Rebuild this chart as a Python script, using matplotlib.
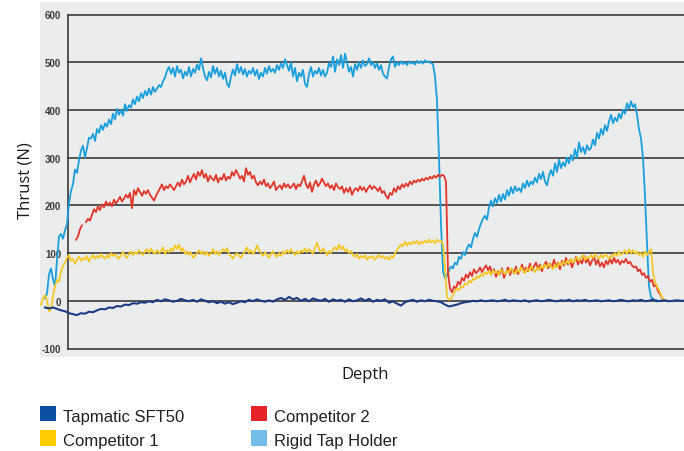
import numpy as np
import matplotlib
matplotlib.use("Agg")
import matplotlib.pyplot as plt
from matplotlib.patches import Rectangle

nan = np.nan

# ---------------- data ----------------
series_names = ["Tapmatic SFT50", "Competitor 1", "Competitor 2", "Rigid Tap Holder"]
legend_colors = ["#0b4ea2", "#ffcc00", "#e8232a", "#74bde9"]
line_colors = ["#1d3b85", "#f4c92a", "#e2362b", "#1a9fdc"]

yticks = [-100, 0, 100, 200, 300, 400, 500, 600]

# Rigid Tap Holder: sampled every 2 depth units from depth 45
rigid_start, rigid_step = 45, 2
rigid_thrust = [5, 15, 55, 68, 45, 30, 85, 135, 140, 130, 148, 160,
    205, 230, 245, 275, 268, 295, 315, 325, 300, 320,
    342, 340, 350, 335, 360, 352, 368, 358, 372, 365,
    380, 370, 392, 380, 402, 390, 400, 388, 412, 398,
    410, 405, 422, 412, 428, 418, 435, 425, 440, 430,
    445, 432, 448, 438, 445, 452, 448, 460, 468, 482,
    490, 476, 488, 470, 492, 478, 484, 466, 480, 472,
    490, 470, 486, 478, 495, 484, 508, 488, 470, 462,
    480, 468, 492, 476, 488, 470, 482, 465, 478, 455,
    448, 470, 485, 472, 496, 478, 490, 474, 486, 470,
    482, 476, 488, 472, 484, 465, 478, 470, 488, 476,
    492, 480, 486, 478, 494, 484, 498, 488, 506, 494,
    482, 500, 470, 488, 460, 478, 470, 484, 455, 448,
    475, 490, 470, 482, 476, 488, 472, 484, 470, 478,
    498, 490, 512, 480, 506, 494, 515, 488, 518, 500,
    480, 490, 470, 496, 484, 500, 488, 504, 492, 496,
    508, 494, 500, 488, 498, 484, 494, 476, 470, 466,
    490, 506, 512, 490, 500, 494, 502, 496, 500, 494,
    502, 497, 500, 495, 503, 498, 502, 497, 504, 500,
    502, 498, 496, 470, 420,
    300, 160, 62, 48, 52, 64, 72, 68, 80, 76,
    92, 88, 102, 96, 110, 118, 112, 130, 142, 134,
    150, 162, 172, 178, 170, 196, 210, 198, 215, 205,
    222, 208, 224, 212, 232, 220, 238, 225, 240, 230,
    236, 228, 246, 236, 252, 240, 250, 244, 258, 248,
    266, 255, 270, 250, 242, 262, 274, 262, 288, 270,
    296, 278, 290, 282, 300, 288, 306, 294, 318, 300,
    332, 312, 322, 308, 326, 316, 320, 338, 326, 352,
    340, 360, 348, 368, 356, 376, 390, 372, 384, 376,
    392, 382, 400, 392, 414, 402, 418, 406, 412, 390,
    360, 340, 300, 220, 120, 30, 8, 3,
    0, 1]

# Competitor 2: sampled every 2 depth units from depth 76
comp2_start, comp2_step = 76, 2
comp2_thrust = [128, 135, 150, 158, nan,
    165, 172, 168, 180, 192, 186, 198, 190, 202, 196,
    208, 200, 206, 198, 212, 204, 210, 218, 208, 214,
    222, 216, 226, 194, 232, 222, 236, 228, 220, 230,
    224, 232, 222, 216, 210, 220, 228, 236, 244, 232,
    240, 236, 244, 238, 232, 240, 248, 240, 254, 244,
    250, 262, 248, 258, 266, 254, 270, 262, 274, 258,
    266, 250, 262, 256, 252, 264, 248, 258, 254, 266,
    252, 260, 256, 270, 262, 274, 266, 256, 262, 250,
    278, 264, 270, 256, 262, 248, 242, 250, 244, 254,
    240, 246, 236, 242, 250, 232, 238, 242, 234, 246,
    238, 244, 236, 240, 246, 234, 244, 240, 250, 262,
    244, 236, 248, 228, 244, 252, 240, 246, 256, 248,
    240, 246, 236, 242, 232, 246, 238, 234, 240, 226,
    236, 228, 238, 222, 232, 236, 230, 240, 232, 238,
    228, 236, 242, 234, 240, 236, 230, 238, 226, 230,
    220, 214, 226, 222, 236, 228, 240, 234, 244, 238,
    246, 240, 250, 244, 252, 248, 254, 250, 256, 252,
    258, 254, 260, 256, 262, 258, 264, 260, 264, 262,
    250, 60, 25,
    18, 30, 26, 40, 34, 48, 42, 55, 48, 60,
    52, 66, 58, 62, 70, 60, 68, 74, 64, 72,
    58, 66, 50, 62, 56, 68, 48, 60, 70, 54,
    66, 58, 72, 56, 64, 76, 60, 70, 62, 78,
    64, 72, 80, 66, 76, 62, 74, 82, 68, 78,
    70, 86, 72, 80, 66, 84, 74, 90, 76, 86,
    70, 82, 92, 76, 86, 78, 94, 80, 88, 74,
    84, 92, 76, 86, 72, 80, 70, 84, 76, 88,
    78, 90, 80, 86, 76, 84, 80, 88, 78, 82,
    74, 70, 72, 62, 66, 54, 58, 48, 52, 40,
    44, 30, 34, 20, 14, 6, 2]

# Competitor 1: sampled every 2 depth units from depth 41
comp1_start, comp1_step = 41, 2
comp1_thrust = [-8, 5, 12, 0, -22, -18, 10, 30, 44, 40,
    62, 72, 80, 90, 96, 84, 88, 78, 86, 92,
    84, 90, 86, 94, 82, 90, 96, 88, 94, 90,
    98, 92, 88, 96, 90, 100, 94, 98, 92, 88,
    96, 102, 94, 90, 98, 104, 96, 102, 98, 106,
    100, 96, 104, 108, 100, 110, 102, 98, 106, 100,
    104, 112, 98, 106, 102, 110, 104, 116, 108, 118,
    104, 110, 98, 104, 96, 102, 90, 94, 100, 106,
    98, 104, 96, 102, 94, 100, 108, 98, 104, 96,
    102, 108, 104, 110, 98, 94, 88, 96, 100, 94,
    90, 98, 104, 112, 100, 106, 98, 104, 116, 108,
    100, 94, 102, 96, 90, 98, 104, 96, 92, 100,
    94, 104, 98, 106, 100, 108, 100, 96, 104, 98,
    106, 102, 110, 102, 108, 104, 98, 112, 122, 108,
    102, 110, 104, 96, 104, 100, 108, 112, 106, 118,
    108, 114, 104, 108, 100, 104, 96, 92, 98, 88,
    94, 90, 96, 86, 92, 90, 94, 86, 92, 96,
    90, 94, 88, 92, 86, 94, 90, 100, 106, 112,
    118, 114, 124, 116, 122, 118, 124, 120, 126, 118,
    124, 120, 126, 122, 128, 122, 126, 120, 128, 124,
    126, 118, 70, 8, 2, 4, 12, 20, 26, 22,
    30, 28, 36, 34, 42, 38, 46, 44, 52, 48,
    56, 52, 60, 56, 62, 54, 64, 58, 62, 54,
    66, 60, 56, 64, 58, 68, 62, 56, 66, 60,
    70, 64, 58, 68, 62, 72, 66, 60, 70, 64,
    74, 68, 76, 70, 78, 72, 66, 76, 70, 80,
    74, 82, 76, 84, 78, 88, 80, 86, 92, 84,
    90, 96, 86, 92, 88, 96, 90, 98, 92, 88,
    96, 90, 98, 94, 88, 96, 92, 100, 94, 104,
    96, 100, 106, 98, 108, 100, 106, 98, 104, 96,
    100, 92, 104, 96, 102, 108, 60, 40, 30, 22,
    12, 4, 1]

# Tapmatic SFT50: sampled every 4 depth units from depth 45
tap_start, tap_step = 45, 4
tap_thrust = [-14, -16, -14, -17, -20, -22, -26, -28, -30, -26,
    -27, -23, -24, -20, -17, -18, -14, -15, -11, -12,
    -8, -9, -5, -6, -3, -4, -1, -3, 2, -1,
    3, 1, -2, 0, 4, 1, -1, 2, -2, 3,
    0, -3, -1, -5, -2, -6, -3, -7, -4, -1,
    -3, 2, -1, 3, 0, -2, 1, -2, 3, 6,
    2, 8, 3, 6, 0, 4, -1, 5, 2, 0,
    4, -2, 3, 0, 2, -2, 3, -1, 1, 5,
    0, 4, -2, 2, 0, 3, -4, -1, -6, -10,
    -3, 0, 2, -2, 1, -1, 2, 0, -1, -3,
    -8, -12, -10, -8, -5, -3, -2, 0, -1, 1,
    -1, 0, 1, -1, 0, 2, -1, 1, 0, -1,
    1, -2, 0, 1, -1, 0, 2, 0, -1, 1,
    0, 2, -1, 1, 0, 2, -1, 0, 1, -1,
    0, 1, -1, 0, 2, 0, -1, 1, 0, 2,
    -1, 0, 3, -1, 0, 1, -1, 0, 1, 0,
    0]

depth_min, depth_max = 68, 684

# ---------------- figure ----------------
W, H = 684, 452
fig = plt.figure(figsize=(W / 100, H / 100), dpi=100)
fig.patch.set_facecolor("white")

panel_color = "#ebecec"
grid_color = "#3a3a3a"

# grey panel behind the chart
fig.patches.append(Rectangle((40 / W, 1 - 358 / H), (W - 40) / W, 355 / H,
                             transform=fig.transFigure, facecolor=panel_color,
                             edgecolor="none", zorder=-5))

ax = fig.add_axes([68 / W, 1 - 349.5 / H, (W - 68) / W, 334 / H])
ax.set_zorder(2)
ax.set_facecolor(panel_color)
ax.set_xlim(depth_min, depth_max)
ax.set_ylim(yticks[0], yticks[-1])

for s in ["top", "right", "bottom"]:
    ax.spines[s].set_visible(False)
ax.spines["left"].set_color(grid_color)
ax.spines["left"].set_linewidth(1.2)

ax.set_xticks([])
ax.set_yticks(yticks)
ax.set_yticklabels([str(t) for t in yticks], fontsize=7, fontweight="bold",
                   color="#3a3a3a", family=["Liberation Sans", "DejaVu Sans"])
ax.tick_params(axis="y", length=0, pad=5)
for t in yticks:
    ax.axhline(t, color=grid_color, lw=1.2, zorder=1, clip_on=False)


def depth_axis(start, step, values):
    return start + step * np.arange(len(values))


series = [
    (rigid_start, rigid_step, rigid_thrust, 3),
    (comp2_start, comp2_step, comp2_thrust, 2),
    (comp1_start, comp1_step, comp1_thrust, 1),
    (tap_start, tap_step, tap_thrust, 0),
]
zord = {3: 3, 2: 4, 1: 5, 0: 6}
widths = {3: 1.3, 2: 1.3, 1: 1.3, 0: 1.5}
for start, step, vals, idx in series:
    d = depth_axis(start, step, vals)
    ax.plot(d, vals, color=line_colors[idx], lw=widths[idx], zorder=zord[idx],
            clip_on=False, solid_joinstyle="round")

# axis titles
fig.text(25 / W, 1 - 181 / H, "Thrust (N)", rotation=90, ha="center",
         va="center", fontsize=12, family=["Open Sans", "DejaVu Sans"],
         color="#1a1a1a")
fig.text(365 / W, 1 - 375 / H, "Depth", ha="center", va="center",
         fontsize=12, family=["Open Sans", "DejaVu Sans"], color="#1a1a1a")

# legend (two columns, two rows)
leg_cols_x = [40, 251]
leg_rows_top = [406.5, 431]
order = [(0, 0, 0), (1, 0, 1), (2, 1, 0), (3, 1, 1)]
for idx, c, r in order:
    x0 = leg_cols_x[c]
    y0 = leg_rows_top[r]
    fig.patches.append(Rectangle((x0 / W, 1 - (y0 + 15.5) / H), 16 / W, 15.5 / H,
                                 transform=fig.transFigure,
                                 facecolor=legend_colors[idx], edgecolor="none"))
    fig.text((x0 + 23) / W, 1 - (y0 + 15.3) / H, series_names[idx],
             ha="left", va="baseline", fontsize=12,
             family=["Liberation Sans", "DejaVu Sans"],
             color="#231f20")

fig.savefig("out.png", dpi=100, facecolor=fig.get_facecolor())
